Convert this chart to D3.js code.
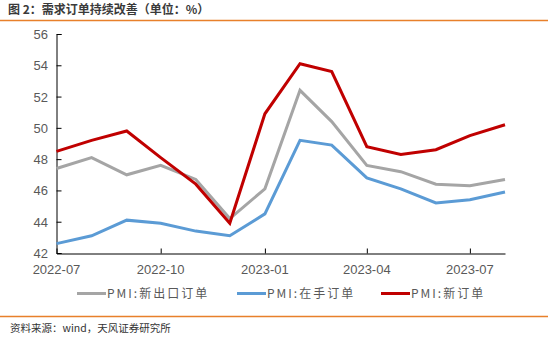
<!DOCTYPE html>
<html><head><meta charset="utf-8">
<script src="https://cdn.jsdelivr.net/npm/d3@7"></script>
<style>body{margin:0;background:#fff}svg{display:block}</style>
</head><body>
<svg id="c" width="548" height="340"></svg>
<script>
const months = ["2022-07","2022-08","2022-09","2022-10","2022-11","2022-12","2023-01","2023-02","2023-03","2023-04","2023-05","2023-06","2023-07","2023-08"];
const exportOrders = [47.4,48.1,47.0,47.6,46.7,44.2,46.1,52.4,50.4,47.6,47.2,46.4,46.3,46.7];
const backlogOrders = [42.6,43.1,44.1,43.9,43.4,43.1,44.5,49.2,48.9,46.8,46.1,45.2,45.4,45.9];
const newOrders = [48.5,49.2,49.8,48.1,46.4,43.9,50.9,54.1,53.6,48.8,48.3,48.6,49.5,50.2];
const xTicks = ["2022-07","2022-10","2023-01","2023-04","2023-07"];
const yTicks = [42,44,46,48,50,52,54,56];
const seriesNames = ["PMI:新出口订单","PMI:在手订单","PMI:新订单"];
const colors = ["#A5A5A5","#5B9BD5","#C00000"];

const svg = d3.select("#c");
const parse = d3.timeParse("%Y-%m");
const dates = months.map(parse);
const x = d3.scaleTime().domain(d3.extent(dates)).range([56.5, 505]);
const y = d3.scaleLinear().domain([42,56]).range([253, 34]);

// title
svg.append("text").attr("x",8).attr("y",14).attr("font-family","Noto Sans CJK SC")
  .attr("font-size",12).attr("font-weight","bold").attr("fill","#3a3a3a").text("图 2：需求订单持续改善（单位：%）");
svg.append("line").attr("x1",0).attr("x2",548).attr("y1",20.5).attr("y2",20.5).attr("stroke","#E8802B").attr("stroke-width",1.5);
svg.append("line").attr("x1",0).attr("x2",548).attr("y1",316.5).attr("y2",316.5).attr("stroke","#E8802B").attr("stroke-width",1.5);
svg.append("text").attr("x",10).attr("y",332).attr("font-family","Noto Sans CJK SC")
  .attr("font-size",10.5).attr("fill","#333").text("资料来源：wind，天风证券研究所");

// axes
const ya = svg.append("g").attr("transform","translate(56.5,0)")
  .call(d3.axisRight(y).tickValues(yTicks).tickSize(5).tickFormat(""));
ya.select(".domain").attr("stroke","#000");
ya.selectAll(".tick line").attr("stroke","#000");
svg.append("g").selectAll("text").data(yTicks).join("text")
  .attr("x",48).attr("y",d=>y(d)+5).attr("text-anchor","end")
  .attr("font-family","Liberation Sans, Arial").attr("font-size",13).attr("fill","#595959").text(d=>d);

const xa = svg.append("g").attr("transform","translate(0,253.5)")
  .call(d3.axisTop(x).tickValues(xTicks.map(parse)).tickSize(5).tickFormat("").tickSizeOuter(0));
xa.select(".domain").attr("stroke","#000");
xa.selectAll(".tick line").attr("stroke","#000");
svg.append("g").selectAll("text").data(xTicks).join("text")
  .attr("x",d=>x(parse(d))).attr("y",274).attr("text-anchor","middle")
  .attr("font-family","Liberation Sans, Arial").attr("font-size",13).attr("fill","#595959").text(d=>d);

// lines
const all = [exportOrders, backlogOrders, newOrders];
const line = d3.line().x((d,i)=>x(dates[i])).y(d=>y(d));
all.forEach((s,k)=>{
  svg.append("path").datum(s).attr("d",line).attr("fill","none")
    .attr("stroke",colors[k]).attr("stroke-width",3).attr("stroke-linejoin","miter");
});

// legend
const legX = [77, 237, 381];
seriesNames.forEach((n,k)=>{
  svg.append("line").attr("x1",legX[k]).attr("x2",legX[k]+29).attr("y1",293.5).attr("y2",293.5)
    .attr("stroke",colors[k]).attr("stroke-width",3);
  svg.append("text").attr("x",legX[k]+30).attr("y",298).attr("font-family","Noto Sans CJK SC")
    .attr("font-size",12).attr("letter-spacing",2).attr("fill","#595959").text(n);
});
</script>
</body></html>
